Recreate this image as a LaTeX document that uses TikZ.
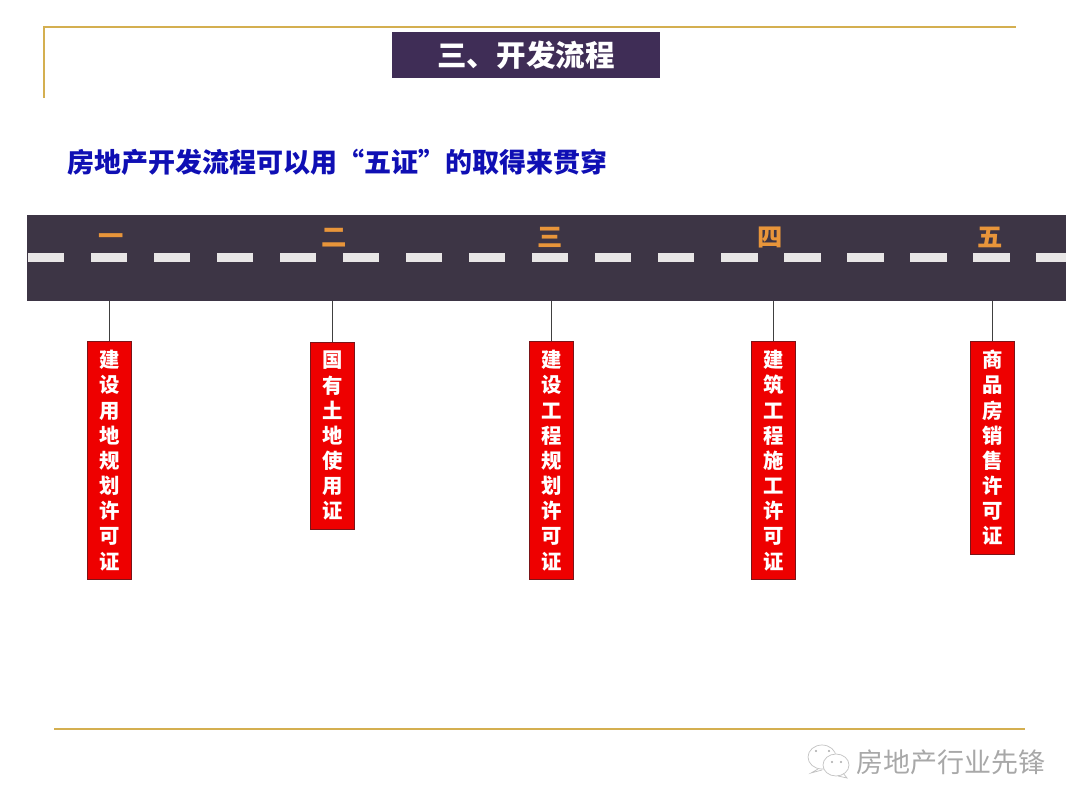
\documentclass[tikz,border=0pt]{standalone}
\usepackage{fontspec}
\setmainfont{Noto Sans CJK SC}
\definecolor{roadgray}{HTML}{3D3545}
\definecolor{lanewhite}{HTML}{E8E6E6}
\definecolor{titlepurple}{HTML}{3F2D56}
\definecolor{linegold}{HTML}{D4AF50}
\definecolor{stepred}{HTML}{EE0000}
\definecolor{stepborder}{HTML}{7A1418}
\definecolor{numorange}{HTML}{E8953A}
\definecolor{headblue}{HTML}{0F0FB4}
\definecolor{markgray}{HTML}{A8A8A8}

\begin{document}
\begin{tikzpicture}[
    x=0.025cm, y=-0.025cm,
    goldline/.style={line width=2pt, linegold},
    titlebox/.style={rectangle, fill=titlepurple, text=white, minimum width=6.7cm,
                     minimum height=1.15cm, inner sep=0pt, font=\fontsize{21}{25}\selectfont\bfseries},
    headlbl/.style={text=headblue, font=\fontsize{19.2}{23}\selectfont\bfseries, inner sep=0pt},
    road/.style={rectangle, fill=roadgray, minimum width=25.97cm, minimum height=2.15cm, inner sep=0pt},
    lanedash/.style={fill=lanewhite},
    numlbl/.style={text=numorange, font=\fontsize{18}{22}\selectfont\bfseries, inner sep=0pt},
    certbox/.style={rectangle, draw=stepborder, line width=0.7pt, fill=stepred, text=white, align=center,
                    minimum width=1.1cm, inner sep=0pt, anchor=north,
                    font=\fontsize{14.5}{17.9}\selectfont\bfseries},
    conn/.style={line width=0.8pt, black!75},
    marklbl/.style={text=markgray, font=\fontsize{19.2}{23}\selectfont, inner sep=0pt},
    bubble/.style={draw=markgray!70, fill=white, line width=0.5pt},
]
\useasboundingbox (0, 0) rectangle (1080, 810);

% --- Gold frame lines ---
\draw[goldline] (44, 98) -- (44, 27) -- (1016, 27);
\draw[goldline] (54, 729) -- (1025, 729);

% --- Title and heading ---
\node[titlebox] (title) at (526, 55) {三、开发流程};
\node[headlbl, anchor=west] (head) at (67, 162) {房地产开发流程可以用“五证”的取得来贯穿};

% --- Road with lane dashes ---
\node[road] (road) at (546.75, 258) {};
\fill[lanedash] (27.5, 253) rectangle (63.5, 262);
\foreach \x in {0,...,14} {
    \fill[lanedash] (90.5+63.05*\x, 253) rectangle (127+63.05*\x, 262);
}
\fill[lanedash] (1035.5, 253) rectangle (1065.5, 262);

% --- Numbers on the road ---
\node[numlbl] (n1) at (111, 240) {一};
\node[numlbl] (n2) at (334, 238) {二};
\node[numlbl] (n3) at (550, 237) {三};
\node[numlbl] (n4) at (770, 237) {四};
\node[numlbl] (n5) at (990, 237) {五};

% --- Certificates ---
\node[certbox, minimum height=5.95cm] (cert1) at (109.4, 341) {建\\设\\用\\地\\规\\划\\许\\可\\证};
\node[certbox, minimum height=4.67cm] (cert2) at (332.4, 342) {国\\有\\土\\地\\使\\用\\证};
\node[certbox, minimum height=5.95cm] (cert3) at (551.4, 341) {建\\设\\工\\程\\规\\划\\许\\可\\证};
\node[certbox, minimum height=5.95cm] (cert4) at (773.4, 341) {建\\筑\\工\\程\\施\\工\\许\\可\\证};
\node[certbox, minimum height=5.32cm] (cert5) at (992.4, 341) {商\\品\\房\\销\\售\\许\\可\\证};

% --- Connections ---
\draw[conn] (cert1.north) -- (cert1.north |- road.south);
\draw[conn] (cert2.north) -- (cert2.north |- road.south);
\draw[conn] (cert3.north) -- (cert3.north |- road.south);
\draw[conn] (cert4.north) -- (cert4.north |- road.south);
\draw[conn] (cert5.north) -- (cert5.north |- road.south);

% --- Account mark ---
\draw[bubble] (818, 769) -- (811, 773) -- (822, 770);
\draw[bubble] (822, 757) ellipse (14 and 12);
\draw[bubble] (843, 773) -- (847, 778) -- (838, 776);
\draw[bubble] (836, 765) ellipse (13 and 11);
\fill[markgray] (816, 751) circle (1.2) (829, 751) circle (1.2) (832, 762) circle (1.2) (841, 762) circle (1.2);
\node[marklbl, anchor=west] (mark) at (856, 762) {房地产行业先锋};

\end{tikzpicture}
\end{document}
